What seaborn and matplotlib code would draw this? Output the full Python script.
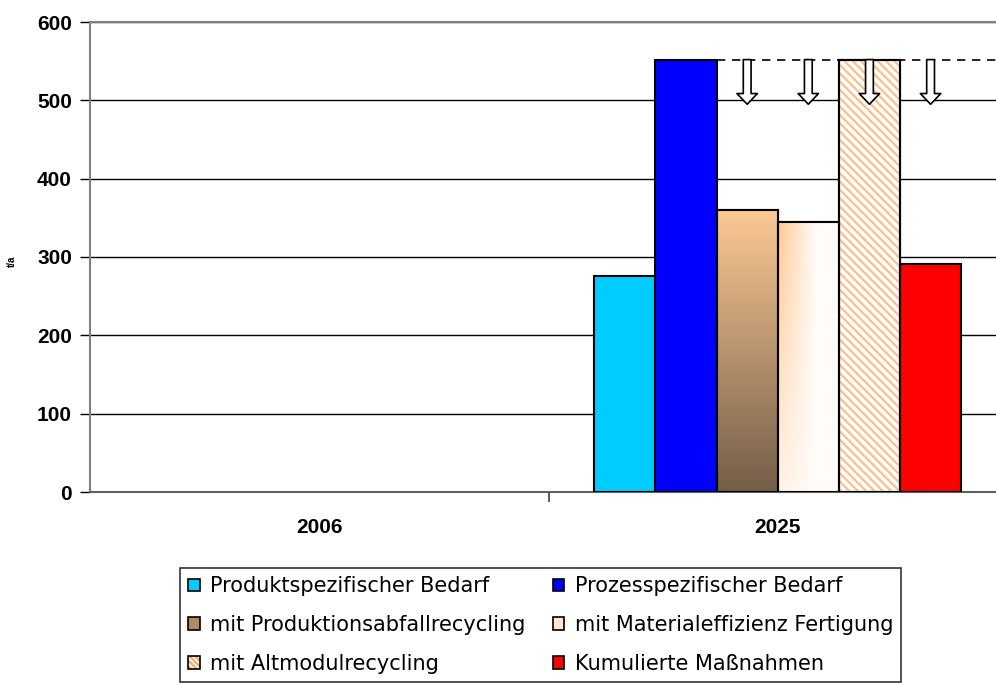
import numpy as np
import pandas as pd
import seaborn as sns
import matplotlib.pyplot as plt
from matplotlib.patches import Rectangle, Patch
from matplotlib.colors import to_rgb

# data
years = ["2006", "2025"]
series = [
    "Produktspezifischer Bedarf",
    "Prozesspezifischer Bedarf",
    "mit Produktionsabfallrecycling",
    "mit Materialeffizienz Fertigung",
    "mit Altmodulrecycling",
    "Kumulierte Maßnahmen",
]
values_2006 = [np.nan] * 6
values_2025 = [276, 552, 360, 345, 552, 291]
colors = ["#00CCFF", "#0000FF", "#C8A07A", "#FDE6D2", "#FFFFFF", "#FF0000"]
y_ticks = [0, 100, 200, 300, 400, 500, 600]

sns.set_theme(style="white")
plt.rcParams["font.family"] = ["Liberation Sans", "DejaVu Sans"]
plt.rcParams["hatch.linewidth"] = 1.6
for key in ["text.color", "axes.labelcolor", "xtick.color", "ytick.color"]:
    plt.rcParams[key] = "black"

df = pd.DataFrame({
    "year": np.repeat(years, len(series)),
    "series": series * len(years),
    "value": values_2006 + values_2025,
})

fig = plt.figure(figsize=(9.96, 6.83), dpi=100)
ax = fig.add_axes([90 / 996, 191 / 683, 917 / 996, 470 / 683])

sns.barplot(
    data=df, x="year", y="value", hue="series",
    hue_order=series, order=years,
    palette=dict(zip(series, colors)),
    errorbar=None, edgecolor="black", linewidth=1.5,
    saturation=1, legend=False, ax=ax, zorder=3,
)

ax.set_ylim(0, 600)
ax.set_xlim(-0.5, 1.5)
ax.set_yticks(y_ticks)
ax.yaxis.grid(True, color="black", linewidth=1, zorder=0)
ax.set_axisbelow(True)

# bars of 2025, one per series
bars = []
for cont in ax.containers:
    ok = [p for p in cont.patches if np.isfinite(p.get_height()) and p.get_height() > 0]
    bars.append(ok[-1])

def gradient_fill(bar, img):
    x0, y0 = bar.get_x(), bar.get_y()
    w, h = bar.get_width(), bar.get_height()
    im = ax.imshow(img, extent=(x0, x0 + w, y0, y0 + h), aspect="auto",
                   origin="upper", zorder=3.5, interpolation="bilinear")
    im.set_clip_path(bar)
    ax.add_patch(Rectangle((x0, y0), w, h, fill=False, edgecolor="black",
                           linewidth=1.5, zorder=4))

# brown vertical gradient
top = np.array(to_rgb("#FCC995"))
bot = np.array(to_rgb("#745E48"))
t = np.linspace(0, 1, 100)[:, None]
img = (top * (1 - t) + bot * t)[:, None, :].repeat(2, axis=1)
gradient_fill(bars[2], img)

# light peach gradient fading to white (right and bottom)
peach = np.array(to_rgb("#FFCC99"))
white = np.ones(3)
yy, xx = np.mgrid[0:1:100j, 0:1:60j]
a = np.clip(1 - xx * 1.6, 0, 1) * (1 - 0.8 * yy) + 0.05
a = np.clip(a, 0, 1)[..., None]
img2 = peach * a + white * (1 - a)
gradient_fill(bars[3], img2)

# hatched bar
hb = bars[4]
hb.set_facecolor("white")
ax.add_patch(Rectangle((hb.get_x(), 0), hb.get_width(), hb.get_height(),
                       fill=False, hatch="\\\\\\\\", edgecolor="#FBBF8A",
                       linewidth=0, zorder=3.5))
ax.add_patch(Rectangle((hb.get_x(), 0), hb.get_width(), hb.get_height(),
                       fill=False, edgecolor="black", linewidth=1.5, zorder=4))

# dashed reference line and arrows
ref = bars[1]
ax.plot([ref.get_x() + ref.get_width(), 1.5], [ref.get_height()] * 2,
        color="black", linestyle=(0, (5, 4)), linewidth=1.2, zorder=5,
        clip_on=False)
for b in bars[2:]:
    xc = b.get_x() + b.get_width() / 2
    ax.annotate("", xy=(xc, 495), xytext=(xc, ref.get_height()),
                arrowprops=dict(arrowstyle="simple,head_length=0.55,head_width=1.05,tail_width=0.4",
                                fc="white", ec="black", lw=1.2,
                                shrinkA=0, shrinkB=0, mutation_scale=14),
                zorder=6)

# axes styling
for s in ["top", "left", "right"]:
    ax.spines[s].set_color("#808080")
    ax.spines[s].set_linewidth(1.5)
ax.spines["bottom"].set_color("#606060")
ax.spines["bottom"].set_linewidth(1.5)

ax.set_xlabel("")
ax.set_ylabel("t/a", fontsize=7, fontweight="bold")
ax.yaxis.set_label_coords(-73 / 917, 0.49)
ax.tick_params(axis="y", left=True, length=7, width=1, color="black",
               labelsize=15, pad=6)
for lab in ax.get_yticklabels():
    lab.set_fontweight("bold")
ax.tick_params(axis="x", bottom=False, labelsize=15, pad=13)
for lab in ax.get_xticklabels():
    lab.set_fontweight("bold")
ax.set_xticks([0.5], minor=True)
ax.tick_params(axis="x", which="minor", bottom=True, length=7, width=1.5,
               color="#606060")

# legend, filled row by row as in the reference
outline = Patch(facecolor="none", edgecolor="black", linewidth=1.2)
handles = [
    Patch(facecolor=colors[0], edgecolor="black", linewidth=1.2),
    Patch(facecolor=colors[1], edgecolor="black", linewidth=1.2),
    Patch(facecolor="#B08A66", edgecolor="black", linewidth=1.2),
    Patch(facecolor=colors[3], edgecolor="black", linewidth=1.2),
    (Patch(facecolor="white", edgecolor="#F5A868", hatch="\\\\\\\\\\\\", linewidth=0), outline),
    Patch(facecolor=colors[5], edgecolor="black", linewidth=1.2),
]
order = [0, 2, 4, 1, 3, 5]
leg = fig.legend([handles[i] for i in order], [series[i] for i in order],
                 ncol=2, loc="upper left", bbox_to_anchor=(180 / 996, 1 - 568 / 683),
                 frameon=True, fancybox=False, edgecolor="black",
                 prop={"family": ["DejaVu Sans"], "size": 15},
                 handlelength=0.55, handleheight=0.55,
                 handletextpad=0.5, columnspacing=1.3, labelspacing=0.9,
                 borderpad=0.4, borderaxespad=0)
leg.get_frame().set_linewidth(1.2)

fig.savefig("out.png", dpi=100)
